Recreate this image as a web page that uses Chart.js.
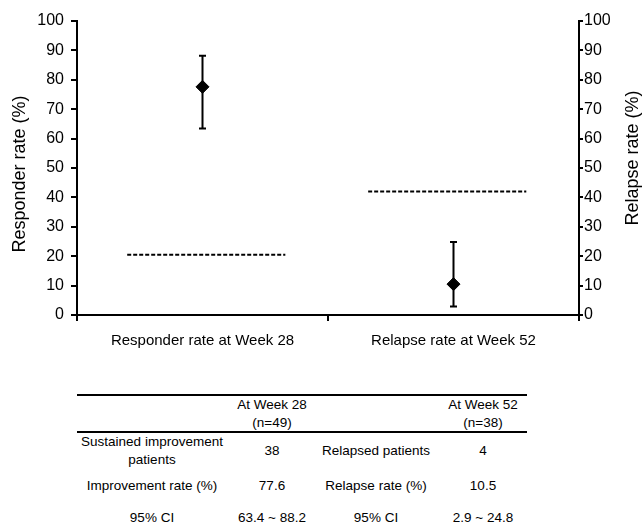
<!DOCTYPE html>
<html>
<head>
<meta charset="utf-8">
<script src="https://cdn.jsdelivr.net/npm/chart.js@4/dist/chart.umd.min.js"></script>
<style>
  body { margin: 0; background: #fff; font-family: "Liberation Sans", Arial, sans-serif; color: #000; }
  #wrap { position: relative; width: 644px; height: 530px; }
  #chartBox { position: absolute; left: 0; top: 0; width: 644px; height: 360px; }
  .t { position: absolute; font-size: 13.5px; text-align: center; line-height: 18px; white-space: nowrap; transform: translateX(-50%); }
  .rule { position: absolute; left: 77px; width: 450px; height: 2px; background: #000; }
</style>
</head>
<body>
<div id="wrap">
  <div id="chartBox"><canvas id="ciChart" width="644" height="360"></canvas></div>

  <div class="rule" style="top:394px"></div>
  <div class="rule" style="top:431px"></div>

  <div class="t" style="left:272px; top:396px">At Week 28<br>(n=49)</div>
  <div class="t" style="left:483px; top:396px">At Week 52<br>(n=38)</div>

  <div class="t" style="left:152px; top:433px">Sustained improvement<br>patients</div>
  <div class="t" style="left:272px; top:442px">38</div>
  <div class="t" style="left:376px; top:442px">Relapsed patients</div>
  <div class="t" style="left:483px; top:442px">4</div>

  <div class="t" style="left:152px; top:477px">Improvement rate (%)</div>
  <div class="t" style="left:272px; top:477px">77.6</div>
  <div class="t" style="left:376px; top:477px">Relapse rate (%)</div>
  <div class="t" style="left:483px; top:477px">10.5</div>

  <div class="t" style="left:152px; top:509px">95% CI</div>
  <div class="t" style="left:272px; top:509px">63.4 ~ 88.2</div>
  <div class="t" style="left:376px; top:509px">95% CI</div>
  <div class="t" style="left:483px; top:509px">2.9 ~ 24.8</div>
</div>

<script>
// categories on the x axis
const categories = ["Responder rate at Week 28", "Relapse rate at Week 52"];
// point estimates and 95% CI
const rates = [77.6, 10.5];
const ciLow = [63.4, 2.9];
const ciHigh = [88.2, 24.8];
// dashed reference lines (value, start, end as fraction of category)
const refValues = [20.5, 42];
const refStart = [0.2, 0.16];
const refEnd = [0.83, 0.79];
// y ticks
const yTicks = [0, 10, 20, 30, 40, 50, 60, 70, 80, 90, 100];

const font = "'Liberation Sans', Arial, sans-serif";

// error bars drawn through the chart's scales
const errorBars = {
  id: "errorBars",
  afterDatasetsDraw(chart) {
    const { ctx, scales: { x, y } } = chart;
    ctx.save();
    ctx.strokeStyle = "#000";
    ctx.lineWidth = 2;
    rates.forEach((v, i) => {
      const px = x.getPixelForValue(i + 0.5);
      const yl = y.getPixelForValue(ciLow[i]);
      const yh = y.getPixelForValue(ciHigh[i]);
      ctx.beginPath();
      ctx.moveTo(px, yl); ctx.lineTo(px, yh);
      ctx.moveTo(px - 3.5, yl); ctx.lineTo(px + 3.5, yl);
      ctx.moveTo(px - 3.5, yh); ctx.lineTo(px + 3.5, yh);
      ctx.stroke();
    });
    ctx.restore();
  }
};

// both axis titles read bottom-to-top
const axisTitles = {
  id: "axisTitles",
  afterDraw(chart) {
    const { ctx } = chart;
    const put = (text, cx, cy) => {
      ctx.save();
      ctx.translate(cx, cy);
      ctx.rotate(-Math.PI / 2);
      ctx.font = "18px " + font;
      ctx.fillStyle = "#000";
      ctx.textAlign = "center";
      ctx.textBaseline = "middle";
      ctx.fillText(text, 0, 0);
      ctx.restore();
    };
    put("Responder rate (%)", 20, 174);
    put("Relapse rate (%)", 633, 158);
  }
};

const datasets = [
  {
    type: "scatter",
    data: rates.map((v, i) => ({ x: i + 0.5, y: v })),
    pointStyle: "rectRot",
    pointRadius: 6.5,
    backgroundColor: "#000",
    borderColor: "#000",
    yAxisID: "y"
  }
];
refValues.forEach((v, i) => {
  datasets.push({
    type: "line",
    data: [{ x: i + refStart[i], y: v }, { x: i + refEnd[i], y: v }],
    borderColor: "#000",
    borderWidth: 2,
    borderDash: [4, 2],
    pointRadius: 0,
    fill: false,
    yAxisID: "y"
  });
});

new Chart(document.getElementById("ciChart"), {
  data: { datasets },
  options: {
    responsive: false,
    animation: false,
    layout: { padding: { top: 21, right: 0, bottom: 0, left: 0 } },
    plugins: { legend: { display: false }, tooltip: { enabled: false } },
    scales: {
      x: {
        type: "linear",
        min: 0, max: 2,
        afterBuildTicks: s => { s.ticks = [0, 0.5, 1, 1.5, 2].map(v => ({ value: v })); },
        afterFit: s => { s.height = 45; },
        border: { display: true, color: "#000", width: 2 },
        grid: {
          drawOnChartArea: false, drawTicks: true, tickLength: 6, lineWidth: 2,
          color: c => (c.tick && Number.isInteger(c.tick.value)) ? "#000" : "rgba(0,0,0,0)"
        },
        ticks: {
          autoSkip: false, maxRotation: 0, padding: 11,
          color: "#000", font: { family: font, size: 15 },
          callback: v => v === 0.5 ? categories[0] : v === 1.5 ? categories[1] : ""
        }
      },
      y: {
        position: "left",
        min: 0, max: 100,
        afterBuildTicks: s => { s.ticks = yTicks.map(v => ({ value: v })); },
        afterFit: s => { s.width = 77; },
        border: { display: true, color: "#000", width: 2 },
        grid: { drawOnChartArea: false, drawTicks: true, tickLength: 6, color: "#000", lineWidth: 2 },
        ticks: { color: "#000", padding: 7, font: { family: font, size: 16 } }
      },
      y2: {
        position: "right",
        min: 0, max: 100,
        afterBuildTicks: s => { s.ticks = yTicks.map(v => ({ value: v })); },
        afterFit: s => { s.width = 65; },
        border: { display: true, color: "#000", width: 2 },
        grid: { drawOnChartArea: false, drawTicks: true, tickLength: 4, color: "#000", lineWidth: 2 },
        ticks: { color: "#000", padding: 1, font: { family: font, size: 16 } }
      }
    }
  },
  plugins: [errorBars, axisTitles]
});
</script>
</body>
</html>
